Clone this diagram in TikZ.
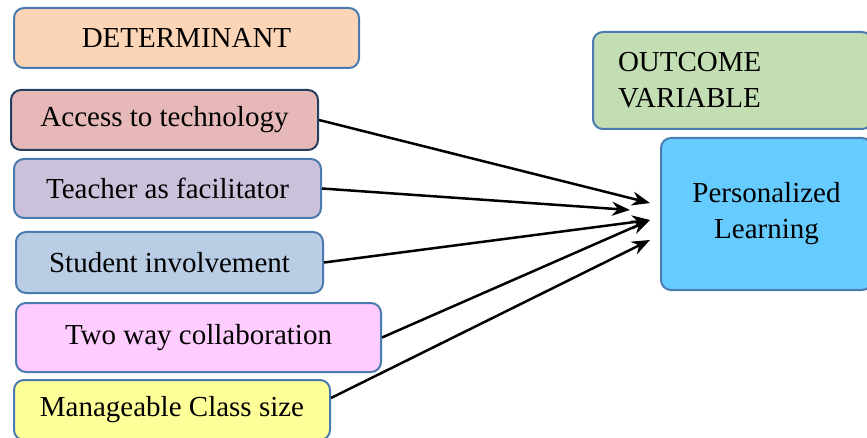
\documentclass[tikz,border=0pt]{standalone}
\usepackage{fontspec}
\setmainfont{Liberation Serif}
\usepackage{tikz}
\usetikzlibrary{arrows.meta}
\definecolor{peach}{HTML}{FBD5B5}
\definecolor{rosebox}{HTML}{E6B9B8}
\definecolor{lilacbox}{HTML}{CCC1DA}
\definecolor{bluebox}{HTML}{B9CDE5}
\definecolor{pinkbox}{HTML}{FFCCFF}
\definecolor{yellowbox}{HTML}{FFFF99}
\definecolor{greenbox}{HTML}{C4DEB4}
\definecolor{skybox}{HTML}{66CCFF}
\definecolor{edgeblue}{HTML}{4A7AB0}
\definecolor{edgenavy}{HTML}{243F60}
\tikzstyle{factor} = [rectangle, rounded corners=5pt, inner sep=0pt, text centered, draw=edgeblue, line width=1pt, font=\fontsize{14.5}{18}\selectfont]
\tikzstyle{arrow} = [line width=1.25pt,-{Stealth[length=9pt,width=7pt]}]

\begin{document}
\begin{tikzpicture}[x=0.5pt,y=-0.5pt]
\useasboundingbox (0,0) rectangle (867,438);
\node (determinant) [factor, fill=peach, minimum width=172.5pt, minimum height=30pt] at (186.5,38) {DETERMINANT};
\node (access) [factor, fill=rosebox, draw=edgenavy, minimum width=153.5pt, minimum height=30pt] at (164.5,120) {Access to technology};
\node (teacher) [factor, fill=lilacbox, minimum width=153.5pt, minimum height=29.5pt] at (167.5,188.5) {Teacher as facilitator};
\node (student) [factor, fill=bluebox, minimum width=153.5pt, minimum height=30.5pt] at (169.5,262.5) {Student involvement};
\node (twoway) [factor, fill=pinkbox, minimum width=182.5pt, minimum height=34.5pt] at (198.5,337.5) {Two way collaboration};
\node (classsize) [factor, fill=yellowbox, minimum width=158pt, minimum height=30pt] at (172,410) {Manageable Class size};
\node (outcome) [factor, fill=greenbox, align=left, text width=114.5pt, inner xsep=12.5pt, minimum height=48.5pt] at (732.5,80.5) {OUTCOME\\VARIABLE};
\node (personal) [factor, fill=skybox, align=center, minimum width=105.5pt, minimum height=76pt] at (766.5,214) {Personalized\\Learning};
\coordinate (tipa) at (650,203);
\coordinate (tipb) at (630,210);
\coordinate (tipc) at (650,220);
\coordinate (tipd) at (650,240);
\draw [arrow] (access.east) -- (tipa);
\draw [arrow] (teacher.east) -- (tipb);
\draw [arrow] (student.east) -- (tipc);
\draw [arrow] (twoway.east) -- (tipc);
\draw [arrow] (classsize.east) ++(0,-12) -- (tipd);
\end{tikzpicture}
\end{document}
